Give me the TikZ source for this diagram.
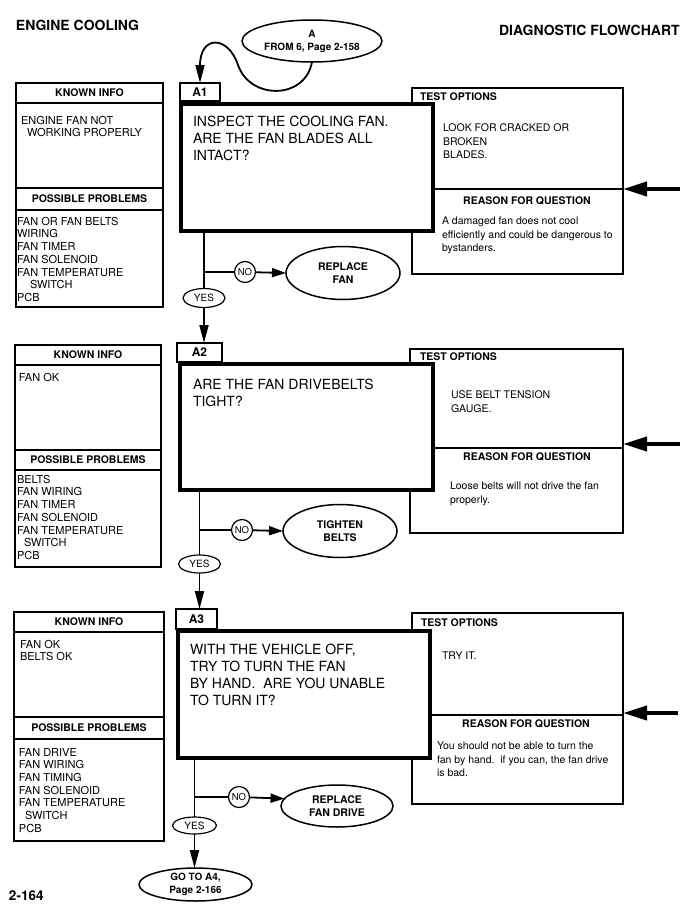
\documentclass[tikz,border=0pt]{standalone}
\usepackage{fontspec}
\setmainfont{TeX Gyre Heros}
\usetikzlibrary{shapes.geometric,arrows.meta,positioning,calc}

\begin{document}
\begin{tikzpicture}[x=1pt,y=-1pt,
    every node/.style={inner sep=0pt,outer sep=0pt},
    infobox/.style={rectangle,draw,line width=1.2pt,anchor=north west},
    boxhead/.style={infobox,font=\bfseries\fontsize{10.5}{12}\selectfont},
    testbox/.style={rectangle,draw,line width=1.5pt,anchor=north west},
    qbox/.style={rectangle,draw,line width=4pt,fill=white,anchor=north west},
    tag/.style={rectangle,draw,line width=1.2pt,fill=white,anchor=north west,font=\bfseries\fontsize{12}{14}\selectfont},
    title/.style={anchor=north west,font=\bfseries\fontsize{14}{16}\selectfont},
    qtext/.style={anchor=north west,align=left,font=\fontsize{14}{17}\selectfont},
    infotext/.style={anchor=north west,align=left,font=\fontsize{11}{12.7}\selectfont},
    testtext/.style={anchor=north west,align=left,font=\fontsize{10.5}{13.5}\selectfont},
    smallhead/.style={font=\bfseries\fontsize{10.5}{12}\selectfont},
    answer/.style={circle,draw,line width=1.2pt,fill=white,minimum size=21pt,font=\fontsize{9.5}{11}\selectfont},
    yesoval/.style={ellipse,draw,line width=1.2pt,fill=white,minimum width=42pt,minimum height=19pt,font=\fontsize{10}{11}\selectfont},
    fixoval/.style={ellipse,draw,line width=1.5pt,fill=white,align=center,font=\bfseries\fontsize{10.5}{12.5}\selectfont},
    wire/.style={line width=1.8pt},
    flow/.style={wire,-{Triangle[length=18pt,width=9pt]}},
    push/.style={wire,-{Triangle[length=14pt,width=9pt]}},
    feed/.style={line width=4pt,-{Triangle[length=24pt,width=14pt]}}]

    \useasboundingbox (0,0) rectangle (694,918);

    \node[title] (lefttitle) at (16,20) {ENGINE COOLING};
    \node[title] (righttitle) at (499,25) {DIAGNOSTIC FLOWCHART};
    \node[title,font=\bfseries\fontsize{13.5}{16}\selectfont] (pageno) at (9,891) {2-164};

    % entry
    \node[fixoval,minimum width=140pt,minimum height=42pt,font=\bfseries\fontsize{10}{13}\selectfont] (start) at (312,41) {A\\FROM 6, Page 2-158};

    % A1
    \node[boxhead,minimum width=147pt,minimum height=20pt] (known1) at (16,83) {KNOWN INFO};
    \node[infobox,minimum width=147pt,minimum height=85pt] (kbody1) at (16,103) {};
    \node[boxhead,minimum width=147pt,minimum height=22pt] (poss1) at (16,188) {POSSIBLE PROBLEMS};
    \node[infobox,minimum width=147pt,minimum height=97pt] (pbody1) at (16,210) {};
    \node[infotext] (ktext1) at (21,116) {ENGINE FAN NOT\\\hspace*{6pt}WORKING PROPERLY};
    \node[infotext] (ptext1) at (17,217) {FAN OR FAN BELTS\\WIRING\\FAN TIMER\\FAN SOLENOID\\FAN TEMPERATURE\\\hspace*{13pt}SWITCH\\PCB};

    \node[testbox,minimum width=211pt,minimum height=101pt] (test1) at (412,88) {};
    \node[testbox,minimum width=211pt,minimum height=85pt] (why1) at (412,189) {};
    \node[smallhead,anchor=north west] (tlabel1) at (420,93) {TEST OPTIONS};
    \node[testtext] (ttext1) at (443,124) {LOOK FOR CRACKED OR\\BROKEN\\BLADES.};
    \node[smallhead] (wlabel1) at (527,201) {REASON FOR QUESTION};
    \node[testtext] (wtext1) at (442,217) {A damaged fan does not cool\\efficiently and could be dangerous to\\bystanders.};

    \node[qbox,minimum width=252pt,minimum height=127pt] (q1) at (181,104) {};
    \node[qtext] (qt1) at (193,116) {INSPECT THE COOLING FAN.\\ARE THE FAN BLADES ALL\\INTACT?};
    \node[tag,minimum width=40pt,minimum height=18pt] (a1) at (180,83) {A1};

    \node[answer] (no1) at (245,272) {NO};
    \node[fixoval,minimum width=114pt,minimum height=53pt] (fix1) at (343,273) {REPLACE\\FAN};
    \node[yesoval] (yes1) at (204,298) {YES};
    \coordinate (j1) at (204,272);
    \coordinate (in1) at (680,189);

    % A2
    \node[boxhead,minimum width=146pt,minimum height=20pt] (known2) at (15,345) {KNOWN INFO};
    \node[infobox,minimum width=146pt,minimum height=85pt] (kbody2) at (15,365) {};
    \node[boxhead,minimum width=146pt,minimum height=20pt] (poss2) at (15,450) {POSSIBLE PROBLEMS};
    \node[infobox,minimum width=146pt,minimum height=97pt] (pbody2) at (15,470) {};
    \node[infotext] (ktext2) at (19,373) {FAN OK};
    \node[infotext] (ptext2) at (17,475) {BELTS\\FAN WIRING\\FAN TIMER\\FAN SOLENOID\\FAN TEMPERATURE\\\hspace*{7pt}SWITCH\\PCB};

    \node[testbox,minimum width=213pt,minimum height=99pt] (test2) at (410,349) {};
    \node[testbox,minimum width=213pt,minimum height=85pt] (why2) at (410,448) {};
    \node[smallhead,anchor=north west] (tlabel2) at (420,353) {TEST OPTIONS};
    \node[testtext] (ttext2) at (451,391) {USE BELT TENSION\\GAUGE.};
    \node[smallhead] (wlabel2) at (527,457) {REASON FOR QUESTION};
    \node[testtext] (wtext2) at (450,482) {Loose belts will not drive the fan\\properly.};

    \node[qbox,minimum width=253pt,minimum height=126pt] (q2) at (180,364) {};
    \node[qtext] (qt2) at (193,379) {ARE THE FAN DRIVEBELTS\\TIGHT?};
    \node[tag,minimum width=45pt,minimum height=19pt] (a2) at (177,343) {A2};

    \node[answer] (no2) at (242,530) {NO};
    \node[fixoval,minimum width=114pt,minimum height=53pt] (fix2) at (340,531) {TIGHTEN\\BELTS};
    \node[yesoval,minimum height=18pt] (yes2) at (199.5,564) {YES};
    \coordinate (j2) at (199.5,530);
    \coordinate (in2) at (680,444);

    % A3
    \node[boxhead,minimum width=150pt,minimum height=20pt] (known3) at (14,612) {KNOWN INFO};
    \node[infobox,minimum width=150pt,minimum height=85pt] (kbody3) at (14,632) {};
    \node[boxhead,minimum width=150pt,minimum height=22pt] (poss3) at (14,717) {POSSIBLE PROBLEMS};
    \node[infobox,minimum width=150pt,minimum height=102pt] (pbody3) at (14,739) {};
    \node[infotext] (ktext3) at (20,640) {FAN OK\\BELTS OK};
    \node[infotext] (ptext3) at (19,748) {FAN DRIVE\\FAN WIRING\\FAN TIMING\\FAN SOLENOID\\FAN TEMPERATURE\\\hspace*{6pt}SWITCH\\PCB};

    \node[testbox,minimum width=211pt,minimum height=102pt] (test3) at (412,613) {};
    \node[testbox,minimum width=211pt,minimum height=89pt] (why3) at (412,715) {};
    \node[smallhead,anchor=north west] (tlabel3) at (421,619) {TEST OPTIONS};
    \node[testtext] (ttext3) at (442,652) {TRY IT.};
    \node[smallhead] (wlabel3) at (526,724) {REASON FOR QUESTION};
    \node[testtext] (wtext3) at (437,742) {You should not be able to turn the\\fan by hand.\ \ if you can, the fan drive\\is bad.};

    \node[qbox,minimum width=252pt,minimum height=127pt] (q3) at (178,631) {};
    \node[qtext] (qt3) at (190,644) {WITH THE VEHICLE OFF,\\TRY TO TURN THE FAN\\BY HAND.\ \ ARE YOU UNABLE\\TO TURN IT?};
    \node[tag,minimum width=41pt,minimum height=20pt] (a3) at (176,609) {A3};

    \node[answer] (no3) at (239,797) {NO};
    \node[fixoval,minimum width=112pt,minimum height=42pt] (fix3) at (337,806) {REPLACE\\FAN DRIVE};
    \node[yesoval,minimum width=44pt,minimum height=17pt] (yes3) at (194.5,825.5) {YES};
    \node[fixoval,minimum width=113pt,minimum height=33pt,font=\bfseries\fontsize{10}{12.5}\selectfont] (goto) at (195.5,884.5) {GO TO A4,\\Page 2-166};
    \coordinate (j3) at (194.5,797);
    \coordinate (in3) at (678,713);

    % connectors
    \draw[flow] (start.south) .. controls (305,100) and (250,100) .. (238,65)
        .. controls (228,35) and (200,35) .. (a1.north);

    \draw[wire] (q1.south -| yes1) -- (yes1.north);
    \draw[wire] (j1) -- (no1);
    \draw[push] (no1) -- (fix1.west);
    \draw[flow] (yes1.south) -- (yes1.south |- a2.north);
    \draw[feed] (in1) -- (test1.south east);

    \draw[wire] (q2.south -| yes2) -- (yes2.north);
    \draw[wire] (j2) -- (no2);
    \draw[push] (no2) -- (fix2.west);
    \draw[flow] (yes2.south) -- (yes2.south |- a3.north);
    \draw[feed] (in2) -- (in2 -| test2.east);

    \draw[wire] (q3.south -| yes3) -- (yes3.north);
    \draw[wire] (j3) -- (no3);
    \draw[push] (no3) -- (fix3.172);
    \draw[flow] (yes3.south) -- (yes3.south |- goto.north);
    \draw[feed] (in3) -- (in3 -| test3.east);
\end{tikzpicture}
\end{document}
